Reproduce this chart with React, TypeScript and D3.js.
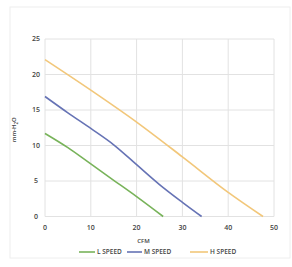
import * as d3 from "d3";

const cfmTicks = [0, 10, 20, 30, 40, 50];
const pressureTicks = [0, 5, 10, 15, 20, 25];

const lSpeedCfm = [0, 5, 10, 15, 20, 25.8];
const lSpeedP = [11.7, 9.7, 7.4, 5.1, 2.8, 0];
const mSpeedCfm = [0, 5, 10, 15, 20, 25, 30, 34.2];
const mSpeedP = [16.9, 14.6, 12.4, 10.1, 7.3, 4.5, 2.0, 0];
const hSpeedCfm = [0, 10, 20, 30, 40, 47.6];
const hSpeedP = [22.1, 17.8, 13.3, 8.4, 3.4, 0];

const seriesNames = ["L SPEED", "M SPEED", "H SPEED"];
const colors = ["#78b35a", "#6673b5", "#f2c77a"];

export default function App() {
  const W = 292, H = 267;
  const x = d3.scaleLinear().domain([0, 50]).range([45, 274]);
  const y = d3.scaleLinear().domain([0, 25]).range([216.5, 39]);

  const series = [
    d3.zip(lSpeedCfm, lSpeedP),
    d3.zip(mSpeedCfm, mSpeedP),
    d3.zip(hSpeedCfm, hSpeedP),
  ] as [number, number][][];

  const line = d3
    .line<[number, number]>()
    .x((d) => x(d[0]))
    .y((d) => y(d[1]))
    .curve(d3.curveMonotoneX);

  const font = "'Open Sans', sans-serif";
  const legendX = [79, 127, 190];
  const legendLen = [16, 15, 18];

  return (
    <svg
      width={W}
      height={H}
      style={{ position: "absolute", left: 0, top: 0, background: "#fff" }}
      fontFamily={font}
    >
      <rect x={10} y={7} width={280} height={251} fill="#fff" stroke="#eeeeee" />
      {/* grid */}
      {cfmTicks.map((t) => (
        <line key={"gx" + t} x1={x(t)} x2={x(t)} y1={y(25)} y2={y(0)} stroke="#e2e2e2" />
      ))}
      {pressureTicks.map((t) => (
        <line key={"gy" + t} x1={x(0)} x2={x(50)} y1={y(t)} y2={y(t)} stroke="#e2e2e2" />
      ))}
      {/* series */}
      {series.map((s, i) => (
        <path key={i} d={line(s) ?? ""} fill="none" stroke={colors[i]} strokeWidth={1.6} />
      ))}
      {/* tick labels */}
      {pressureTicks.map((t) => (
        <text key={"ty" + t} x={36} y={y(t)} dy="0.35em" textAnchor="middle" fontSize={7} fontWeight={600} fill="#444">
          {t}
        </text>
      ))}
      {cfmTicks.map((t) => (
        <text key={"tx" + t} x={x(t)} y={228} dy="0.35em" textAnchor="middle" fontSize={7} fontWeight={600} fill="#444">
          {t}
        </text>
      ))}
      <text x={x(25) - 16} y={241} dy="0.35em" textAnchor="middle" fontSize={6} fontWeight={600} fill="#444">
        CFM
      </text>
      <text
        transform={`translate(14,${y(12.5) + 2}) rotate(-90)`}
        textAnchor="middle"
        dy="0.35em"
        fontSize={6}
        fontWeight={600}
        fill="#444"
      >
        mm-H<tspan fontSize={4.5} dy="1.5">2</tspan>
        <tspan dy="-1.5">O</tspan>
      </text>
      {/* legend */}
      {seriesNames.map((n, i) => (
        <g key={n}>
          <line x1={legendX[i]} x2={legendX[i] + legendLen[i]} y1={252} y2={252} stroke={colors[i]} strokeWidth={1.6} />
          <text x={legendX[i] + legendLen[i] + 2} y={252} dy="0.35em" fontSize={6.5} fontWeight={600} fill="#444">
            {n}
          </text>
        </g>
      ))}
    </svg>
  );
}
